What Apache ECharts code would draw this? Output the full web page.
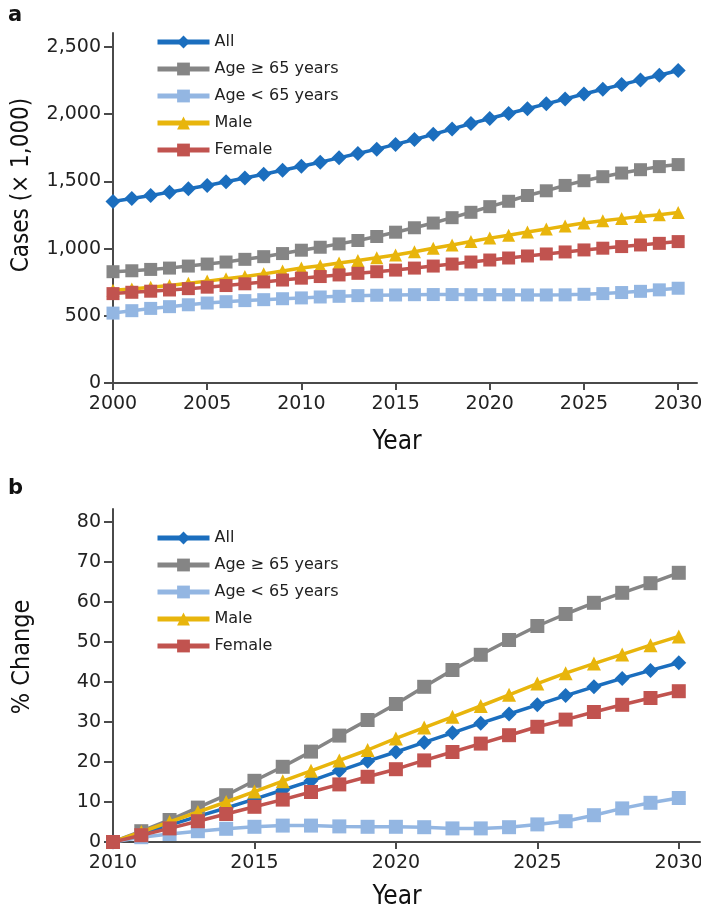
<!DOCTYPE html>
<html>
<head>
<meta charset="utf-8">
<script src="https://cdn.jsdelivr.net/npm/echarts@6/dist/echarts.min.js"></script>
<style>html,body{margin:0;padding:0;background:#fff}#c{width:701px;height:913px}</style>
</head>
<body>
<div id="c"></div>
<script>
var seriesNames = ['All', 'Age \u2265 65 years', 'Age < 65 years', 'Male', 'Female'];
var yearsA = [2000,2001,2002,2003,2004,2005,2006,2007,2008,2009,2010,2011,2012,2013,2014,2015,2016,2017,2018,2019,2020,2021,2022,2023,2024,2025,2026,2027,2028,2029,2030];
var casesAll  = [1350,1372,1395,1420,1445,1470,1497,1525,1553,1583,1612,1643,1675,1707,1740,1775,1812,1850,1890,1930,1968,2005,2040,2077,2113,2150,2185,2220,2255,2290,2325];
var casesOld  = [828,835,845,855,870,885,900,920,940,963,988,1010,1035,1060,1090,1122,1155,1190,1230,1270,1312,1352,1395,1430,1470,1505,1535,1562,1587,1610,1625];
var casesYoung= [520,538,555,568,582,595,605,613,620,627,633,640,645,650,653,655,657,658,658,657,657,656,655,655,656,660,665,673,682,693,705];
var casesMale = [690,700,712,726,742,758,775,793,812,833,855,873,893,912,932,952,977,1002,1027,1053,1078,1100,1123,1145,1168,1190,1207,1223,1238,1252,1268];
var casesFemale=[665,675,683,692,702,713,725,738,752,766,780,792,804,816,828,840,855,870,885,900,915,930,945,960,975,990,1003,1015,1027,1039,1052];

var yearsB = [2010,2011,2012,2013,2014,2015,2016,2017,2018,2019,2020,2021,2022,2023,2024,2025,2026,2027,2028,2029,2030];
var chgAll   = [0,2.2,4.2,6.4,8.5,10.7,13,15.3,17.8,20.2,22.5,24.9,27.3,29.7,32,34.3,36.6,38.8,40.9,42.9,44.8];
var chgOld   = [0,2.7,5.5,8.6,11.7,15.3,18.8,22.6,26.6,30.5,34.5,38.8,43,46.8,50.5,54,57,59.8,62.3,64.7,67.3];
var chgYoung = [0,1.2,2,2.7,3.3,3.8,4.1,4.1,3.9,3.8,3.8,3.7,3.4,3.4,3.7,4.4,5.2,6.7,8.4,9.8,11];
var chgMale  = [0,2.5,5,7.5,10,12.6,15.2,17.8,20.4,23,25.9,28.6,31.3,34,36.8,39.6,42.2,44.6,46.9,49.2,51.4];
var chgFemale= [0,1.7,3.4,5.2,7,8.8,10.6,12.5,14.4,16.3,18.2,20.4,22.5,24.6,26.7,28.8,30.6,32.5,34.3,36,37.7];

var xTicksA = [2000,2005,2010,2015,2020,2025,2030];
var yTicksA = [0,500,1000,1500,2000,2500];
var xTicksB = [2010,2015,2020,2025,2030];
var yTicksB = [0,10,20,30,40,50,60,70,80];

var colors = ['#1b6ebe', '#858585', '#93b6e2', '#e8b50c', '#c1534f'];
var symbols = ['diamond', 'rect', 'rect', 'triangle', 'rect'];
var sizesA = [15, 13, 13, 13, 13];
var sizesB = [15, 14, 14, 14, 14];

function pairs(xs, ys){ return xs.map(function(x,i){ return [x, ys[i]]; }); }

var dataA = [casesAll, casesOld, casesYoung, casesMale, casesFemale];
var dataB = [chgAll, chgOld, chgYoung, chgMale, chgFemale];

var series = [];
seriesNames.forEach(function(n, i){
  series.push({
    name: n, type: 'line', xAxisIndex: 0, yAxisIndex: 0,
    data: pairs(yearsA, dataA[i]),
    symbol: symbols[i], symbolSize: sizesA[i],
    lineStyle: {color: colors[i], width: 3.5},
    itemStyle: {color: colors[i]},
    animation: false, z: 2 + i
  });
});
seriesNames.forEach(function(n, i){
  series.push({
    name: n, type: 'line', xAxisIndex: 1, yAxisIndex: 1,
    data: pairs(yearsB, dataB[i]),
    symbol: symbols[i], symbolSize: sizesB[i],
    lineStyle: {color: colors[i], width: 3.5},
    itemStyle: {color: colors[i]},
    animation: false, z: 2 + i
  });
});

var axisColor = '#4a4a4a';
var tickFont = {fontFamily: 'DejaVu Sans', fontSize: 19, color: '#222'};
function xAxis(grid, min, max, ticks){
  return {
    type: 'value', gridIndex: grid, min: min, max: max,
    axisLine: {show: true, lineStyle: {color: axisColor, width: 2}},
    axisTick: {show: true, length: 7, lineStyle: {color: axisColor, width: 2}, customValues: ticks},
    axisLabel: Object.assign({margin: 12, customValues: ticks, formatter: function(v){return String(v);}}, tickFont),
    splitLine: {show: false}
  };
}
function yAxis(grid, min, max, ticks, fmt){
  return {
    type: 'value', gridIndex: grid, min: min, max: max,
    axisLine: {show: true, lineStyle: {color: axisColor, width: 2}},
    axisTick: {show: true, length: 9, lineStyle: {color: axisColor, width: 2}, customValues: ticks},
    axisLabel: Object.assign({margin: 12, customValues: ticks, formatter: fmt}, tickFont),
    splitLine: {show: false}
  };
}
function commaFmt(v){ return v.toLocaleString('en-US'); }

var legendText = {fontFamily: 'DejaVu Sans', fontSize: 16, color: '#222'};
var titleFont = 'DejaVu Sans Condensed, Liberation Sans Narrow, DejaVu Sans';
function legend(top){
  return {orient: 'vertical', left: 150, top: top, itemWidth: 52, itemHeight: 16, itemGap: 11,
    textStyle: legendText, data: seriesNames, selectedMode: false,
    lineStyle: {width: 5}};
}

var option = {
  backgroundColor: '#fff',
  animation: false,
  grid: [
    {left: 113, top: 33, width: 584, height: 350, outerBoundsMode: 'none', containLabel: false},
    {left: 113, top: 509, width: 587, height: 333, outerBoundsMode: 'none', containLabel: false}
  ],
  xAxis: [xAxis(0, 2000, 2031, xTicksA), xAxis(1, 2010, 2030.75, xTicksB)],
  yAxis: [yAxis(0, 0, 2604, yTicksA, commaFmt), yAxis(1, 0, 83.25, yTicksB, function(v){return String(v);})],
  legend: [legend(29), legend(525)],
  graphic: [
    {type: 'text', left: 8, top: 5, style: {text: 'a', font: 'bold 21px DejaVu Sans', fill: '#111'}},
    {type: 'text', left: 8, top: 478, style: {text: 'b', font: 'bold 21px DejaVu Sans', fill: '#111'}},
    {type: 'text', x: 22, y: 185, rotation: Math.PI/2, style: {text: 'Cases (\u00d7 1,000)', font: '24px ' + titleFont, fill: '#111', align: 'center', verticalAlign: 'middle'}},
    {type: 'text', x: 22, y: 657, rotation: Math.PI/2, style: {text: '% Change', font: '25px ' + titleFont, fill: '#111', align: 'center', verticalAlign: 'middle'}},
    {type: 'text', x: 397, y: 442, style: {text: 'Year', font: '26px ' + titleFont, fill: '#111', align: 'center', verticalAlign: 'middle'}},
    {type: 'text', x: 397, y: 897, style: {text: 'Year', font: '26px ' + titleFont, fill: '#111', align: 'center', verticalAlign: 'middle'}}
  ],
  series: series
};
var chart = echarts.init(document.getElementById('c'), null, {renderer: 'canvas'});
chart.setOption(option);
</script>
</body>
</html>
